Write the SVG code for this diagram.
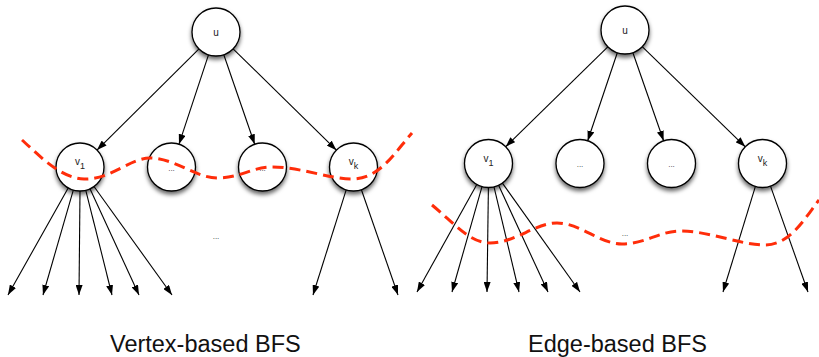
<svg xmlns="http://www.w3.org/2000/svg" width="819" height="357" viewBox="0 0 819 357">
  <defs>
    <marker id="arrow" markerUnits="userSpaceOnUse" markerWidth="10" markerHeight="7" refX="10" refY="3.5" orient="auto">
      <path d="M0,0 L10,3.5 L0,7 z" fill="#000"/>
    </marker>
    <filter id="shadow" x="-30%" y="-30%" width="160%" height="170%">
      <feDropShadow dx="0" dy="3" stdDeviation="2" flood-color="#000" flood-opacity="0.6"/>
    </filter>
  </defs>
  <style>
    .edge { stroke: #000; stroke-width: 1.1; fill: none; marker-end: url(#arrow); }
    .node circle { fill: #fff; stroke: #000; stroke-width: 1.3; filter: url(#shadow); }
    .lbl { font-family: "Liberation Sans", Arial, sans-serif; font-size: 10px; fill: #222; text-anchor: middle; }
    .dots { font-family: "Liberation Sans", Arial, sans-serif; font-size: 8px; fill: #333; text-anchor: middle; }
    .cut { stroke: #ff2d0a; stroke-width: 3; fill: none; stroke-dasharray: 11 6; stroke-linecap: butt; }
    .title { font-family: "Liberation Sans", Arial, sans-serif; font-size: 23.5px; fill: #111; }
  </style>

  <rect width="819" height="357" fill="#fff"/>

  <!-- connectors -->
  <g id="connectors">
    <!-- vertex-based: root to children -->
    <line class="edge" x1="199.0" y1="48.9" x2="97.0" y2="150.1"/>
    <line class="edge" x1="208.5" y1="54.8" x2="179.0" y2="144.2"/>
    <line class="edge" x1="223.8" y1="54.7" x2="254.7" y2="144.3"/>
    <line class="edge" x1="233.1" y1="48.8" x2="336.4" y2="150.2"/>
    <!-- vertex-based: v1 out-edges -->
    <line class="edge" x1="68.2" y1="187.9" x2="8" y2="295"/>
    <line class="edge" x1="73.3" y1="190.1" x2="43" y2="295"/>
    <line class="edge" x1="80" y1="191" x2="79" y2="295"/>
    <line class="edge" x1="85.8" y1="190.3" x2="112" y2="295"/>
    <line class="edge" x1="90.0" y1="188.8" x2="139" y2="295"/>
    <line class="edge" x1="94.0" y1="186.5" x2="172" y2="295"/>
    <!-- vertex-based: vk out-edges -->
    <line class="edge" x1="346.2" y1="189.9" x2="313" y2="295"/>
    <line class="edge" x1="361.4" y1="189.7" x2="398" y2="295"/>

    <!-- edge-based: root to children -->
    <line class="edge" x1="607.8" y1="46.8" x2="505.7" y2="146.7"/>
    <line class="edge" x1="617.3" y1="52.7" x2="587.7" y2="140.8"/>
    <line class="edge" x1="632.9" y1="52.7" x2="663.6" y2="140.8"/>
    <line class="edge" x1="642.2" y1="46.7" x2="745.3" y2="146.8"/>
    <!-- edge-based: v1 out-edges -->
    <line class="edge" x1="476.8" y1="184.5" x2="417" y2="292"/>
    <line class="edge" x1="482.0" y1="186.6" x2="452" y2="292"/>
    <line class="edge" x1="488.4" y1="187.5" x2="487" y2="292"/>
    <line class="edge" x1="494.0" y1="186.8" x2="519" y2="292"/>
    <line class="edge" x1="498.6" y1="185.3" x2="548" y2="292"/>
    <line class="edge" x1="502.4" y1="183.1" x2="580" y2="292"/>
    <!-- edge-based: vk out-edges -->
    <line class="edge" x1="755.4" y1="186.4" x2="723" y2="292"/>
    <line class="edge" x1="770.5" y1="186.1" x2="808" y2="292"/>
  </g>

  <!-- vertex-based tree -->
  <g id="vb-u" class="node"><circle cx="216" cy="32" r="24"/><text class="lbl" x="216" y="36">u</text></g>
  <g id="vb-v1" class="node"><circle cx="80" cy="167" r="24"/><text class="lbl" x="80" y="165">v<tspan dy="4" font-size="9">1</tspan></text></g>
  <g id="vb-n2" class="node"><circle cx="171.5" cy="167" r="24"/><text class="dots" x="171.5" y="171">...</text></g>
  <g id="vb-n3" class="node"><circle cx="262.5" cy="167" r="24"/><text class="dots" x="262.5" y="171">...</text></g>
  <g id="vb-vk" class="node"><circle cx="353.5" cy="167" r="24"/><text class="lbl" x="353.5" y="165">v<tspan dy="4" font-size="9">k</tspan></text></g>
  <text class="dots" x="216" y="239">...</text>

  <!-- edge-based tree -->
  <g id="eb-u" class="node"><circle cx="625" cy="30" r="24"/><text class="lbl" x="625" y="34">u</text></g>
  <g id="eb-v1" class="node"><circle cx="488.5" cy="163.5" r="24"/><text class="lbl" x="488.5" y="161.5">v<tspan dy="4" font-size="9">1</tspan></text></g>
  <g id="eb-n2" class="node"><circle cx="580" cy="163.5" r="24"/><text class="dots" x="580" y="167">...</text></g>
  <g id="eb-n3" class="node"><circle cx="671.5" cy="163.5" r="24"/><text class="dots" x="671.5" y="167">...</text></g>
  <g id="eb-vk" class="node"><circle cx="762.5" cy="163.5" r="24"/><text class="lbl" x="762.5" y="161.5">v<tspan dy="4" font-size="9">k</tspan></text></g>
  <text class="dots" x="625" y="236">...</text>

  <!-- frontier cuts -->
  <path class="cut" d="M22,140 C40,156 60,178 84,179 C110,180 130,158 150,158 C175,158 195,178 218,178 C240,178 252,167 272,167 C300,167 330,179 352,179 C380,179 395,152 412,133"/>
  <path class="cut" d="M432,205 C455,224 470,243 490,243 C515,243 535,223 557,223 C580,223 600,244 622,244 C645,244 660,231 680,231 C710,231 740,245 765,245 C790,245 805,218 819,200"/>

  <!-- captions -->
  <text class="title" x="110" y="352">Vertex-based BFS</text>
  <text class="title" x="528" y="352">Edge-based BFS</text>
</svg>
